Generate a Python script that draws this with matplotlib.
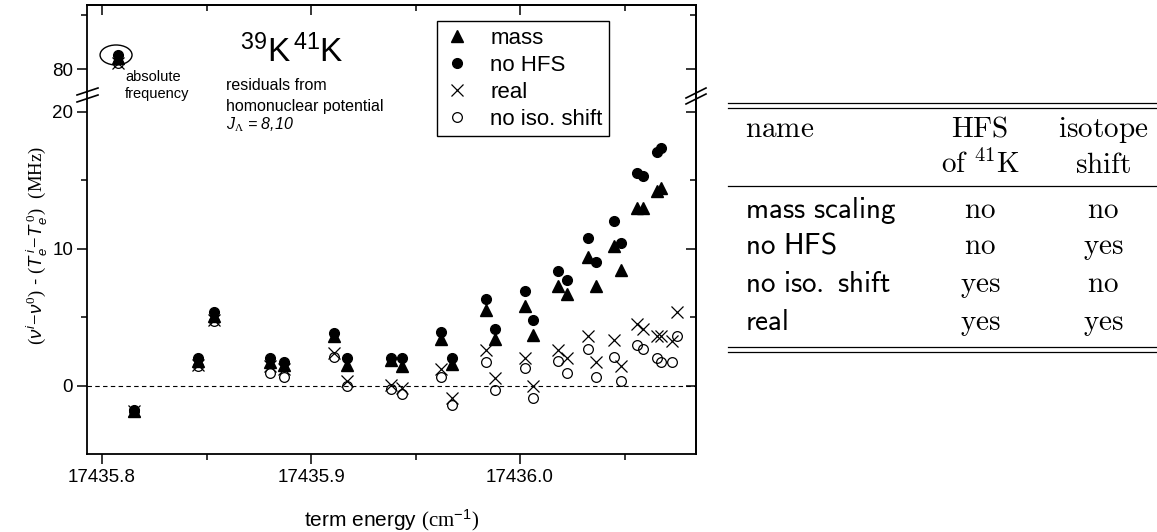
import numpy as np
import matplotlib
matplotlib.use('Agg')
import matplotlib.pyplot as plt
from matplotlib.lines import Line2D
from matplotlib.patches import Ellipse
from matplotlib.ticker import FixedLocator

plt.rcParams['font.family'] = ['Liberation Sans', 'DejaVu Sans']
plt.rcParams['mathtext.fontset'] = 'custom'
plt.rcParams['mathtext.rm'] = 'Liberation Serif'
plt.rcParams['mathtext.it'] = 'Liberation Sans:italic'
plt.rcParams['mathtext.sf'] = 'Liberation Sans'
plt.rcParams['mathtext.bf'] = 'Liberation Sans:bold'

# ---------------- data ----------------
term_energy = [17435.8077, 17435.8153, 17435.8459, 17435.8536, 17435.8804, 17435.8871,
               17435.9110, 17435.9172, 17435.9383, 17435.9435, 17435.9622, 17435.9675,
               17435.9837, 17435.9880, 17436.0024, 17436.0062, 17436.0182, 17436.0225,
               17436.0325, 17436.0364, 17436.0450, 17436.0483, 17436.0560, 17436.0589,
               17436.0656, 17436.0675, 17436.0727, 17436.0751]
mass = [81.0, -1.85, 1.8, 5.1, 1.7, 1.5, 3.6, 1.5, 1.85, 1.45, 3.4, 1.55, 5.55, 3.4,
        5.8, 3.7, 7.3, 6.7, 9.4, 7.25, 10.2, 8.45, 13.0, 13.0, 14.2, 14.45, np.nan, np.nan]
no_hfs = [81.3, -1.8, 2.05, 5.35, 2.05, 1.75, 3.85, 2.05, 2.05, 2.05, 3.9, 2.05, 6.3, 4.15,
          6.9, 4.8, 8.4, 7.75, 10.8, 9.0, 12.0, 10.45, 15.55, 15.3, 17.1, 17.4, np.nan, np.nan]
real = [80.55, -1.85, 1.5, 4.8, 1.45, 1.2, 2.4, 0.3, 0.05, -0.15, 1.2, -0.9, 2.6, 0.55,
        2.05, -0.05, 2.6, 2.05, 3.6, 1.75, 3.3, 1.4, 4.5, 4.15, 3.6, 3.6, 3.25, 5.35]
no_iso_shift = [80.55, -1.85, 1.4, 4.75, 0.9, 0.65, 2.1, 0.0, -0.25, -0.6, 0.6, -1.45, 1.75, -0.3,
                1.25, -0.9, 1.8, 0.95, 2.7, 0.6, 2.1, 0.3, 3.0, 2.7, 2.05, 1.75, 1.75, 3.6]

legend_labels = ['mass', 'no HFS', 'real', 'no iso. shift']
x_ticks = [17435.8, 17435.9, 17436.0]
x_tick_labels = ['17435.8', '17435.9', '17436.0']
x_minor = [17435.85, 17435.95, 17436.05]
y_ticks_low = [0, 10, 20]
y_minor_low = [5, 15]
y_ticks_up = [80]
y_minor_up = [85]

table_rows = [('mass scaling', 'no', 'no'),
              ('no HFS', 'no', 'yes'),
              ('no iso. shift', 'yes', 'no'),
              ('real', 'yes', 'yes')]

# ---------------- layout ----------------
W, H = 1157, 532
fig = plt.figure(figsize=(W / 100, H / 100), dpi=100)


def fx(px):
    return px / W


def fy(py):
    return 1 - py / H


ax_left, ax_right = 87, 696
y_top, y_brk, y_bot = 5, 92, 454
ax_lo = fig.add_axes([fx(ax_left), fy(y_bot), fx(ax_right - ax_left), (y_bot - y_brk) / H])
ax_up = fig.add_axes([fx(ax_left), fy(y_brk), fx(ax_right - ax_left), (y_brk - y_top) / H],
                     sharex=ax_lo)

for ax in (ax_up, ax_lo):
    ax.plot(term_energy, no_iso_shift, 'o', mfc='none', mec='k', ms=7, mew=0.9, ls='none')
    ax.plot(term_energy, real, 'x', color='k', ms=8, mew=0.9, ls='none')
    ax.plot(term_energy, no_hfs, 'o', color='k', ms=7, ls='none')
    ax.plot(term_energy, mass, '^', color='k', ms=8, ls='none')
    for s in ax.spines.values():
        s.set_linewidth(1.3)

ax_lo.set_xlim(17435.7928, 17436.0842)
ax_lo.set_ylim(-5, 21.46)
ax_up.set_ylim(77.87, 85.93)
ax_lo.axhline(0, color='k', lw=0.8, ls=(0, (4, 3)))

ax_lo.spines['top'].set_visible(False)
ax_up.spines['bottom'].set_visible(False)

tick_kw_major = dict(length=7, width=1.1)
tick_kw_minor = dict(length=4.5, width=1.1)
TLS = 13.5

# x axis
ax_lo.set_xticks(x_ticks)
ax_lo.set_xticklabels(x_tick_labels)
ax_lo.xaxis.set_minor_locator(FixedLocator(x_minor))
ax_lo.tick_params(axis='x', which='both', direction='out', top=False, labelsize=TLS, pad=4)
ax_lo.tick_params(axis='x', which='major', **tick_kw_major)
ax_lo.tick_params(axis='x', which='minor', **tick_kw_minor)
ax_up.tick_params(axis='x', which='both', bottom=False, top=False, labelbottom=False)

sec_x = ax_up.secondary_xaxis('top')
sec_x.set_xticks(x_ticks)
sec_x.xaxis.set_minor_locator(FixedLocator(x_minor))
sec_x.tick_params(which='both', direction='in', labeltop=False)
sec_x.tick_params(which='major', **tick_kw_major)
sec_x.tick_params(which='minor', **tick_kw_minor)
sec_x.spines['top'].set_linewidth(1.3)

# y axes
for ax, maj, mnr in ((ax_lo, y_ticks_low, y_minor_low), (ax_up, y_ticks_up, y_minor_up)):
    ax.set_yticks(maj)
    ax.set_yticklabels([str(v) for v in maj])
    ax.yaxis.set_minor_locator(FixedLocator(mnr))
    ax.tick_params(axis='y', which='both', direction='out', right=False, labelsize=TLS, pad=3)
    ax.tick_params(axis='y', which='major', **tick_kw_major)
    ax.tick_params(axis='y', which='minor', **tick_kw_minor)
    sec = ax.secondary_yaxis('right')
    sec.set_yticks(maj)
    sec.yaxis.set_minor_locator(FixedLocator(mnr))
    sec.tick_params(which='both', direction='in', labelright=False)
    sec.tick_params(which='major', **tick_kw_major)
    sec.tick_params(which='minor', **tick_kw_minor)
    sec.spines['right'].set_linewidth(1.3)

# break marks
for (x0, y0, x1, y1) in [(77, 95, 98, 88), (77, 102, 98, 95),
                         (686, 98, 706, 88), (686, 104, 706, 94)]:
    fig.add_artist(Line2D([fx(x0), fx(x1)], [fy(y0), fy(y1)], color='k', lw=1.2,
                          transform=fig.transFigure))

# absolute frequency marker
ax_up.add_patch(Ellipse((17435.8067, 81.3), width=0.0153, height=1.85, fill=False,
                        lw=1.0, ec='k'))
fig.text(fx(125), fy(77), 'absolute', fontsize=10.5, ha='left', va='center')
fig.text(fx(125), fy(94), 'frequency', fontsize=10.5, ha='left', va='center')

# title
fig.text(fx(240), fy(62), r'$^{\mathsf{39}}$K$^{\,\mathsf{41}}$K', fontsize=24,
         ha='left', va='baseline')
fig.text(fx(226), fy(86), 'residuals from', fontsize=11.5, ha='left', va='center')
fig.text(fx(226), fy(106), 'homonuclear potential', fontsize=11.5, ha='left', va='center')
fig.text(fx(226), fy(125), r'$J_{\Lambda}$ = 8,10', fontsize=11.5, ha='left', va='center',
         style='italic')

# legend
lines = ax_lo.get_lines()[:4]
handles = [lines[3], lines[2], lines[1], lines[0]]
leg = fig.legend(handles, legend_labels, loc='upper left',
                 bbox_to_anchor=(fx(437), fy(21)), borderaxespad=0, fontsize=16,
                 frameon=True, fancybox=False, edgecolor='k', framealpha=1,
                 handlelength=1.2, handletextpad=0.9, borderpad=0.3, labelspacing=0.27)
leg.get_frame().set_linewidth(1.0)

# axis labels
fig.text(fx(392), fy(520), 'term energy ' + r'$(\mathrm{cm}^{\mathsf{-1}})$', fontsize=15,
         ha='center', va='center')
fig.text(fx(37), fy(245),
         r'$(\nu^{\mathit{i}}\!-\!\nu^{\mathit{0}})$ - $(T_{e}^{\,\mathit{i}}\!-\!T_{e}^{\,\mathit{0}})$  $(\mathrm{MHz})$',
         fontsize=13.5, rotation=90, ha='center', va='center')

# table
tk = dict(math_fontfamily='cm', fontsize=21)
tx_name, tx_c2, tx_c3 = 745, 980, 1103
fig.text(fx(tx_name), fy(136.7), r'$\mathrm{name}$', ha='left', va='baseline', **tk)
fig.text(fx(tx_c2), fy(136.7), r'$\mathrm{HFS}$', ha='center', va='baseline', **tk)
fig.text(fx(tx_c3), fy(136.7), r'$\mathrm{isotope}$', ha='center', va='baseline', **tk)
fig.text(fx(tx_c2), fy(173.3), r'$\mathrm{of}\ ^{41}\mathrm{K}$', ha='center', va='baseline', **tk)
fig.text(fx(tx_c3), fy(173.3), r'$\mathrm{shift}$', ha='center', va='baseline', **tk)
row_base = [218.3, 253.5, 292.0, 330.0]
for (nm, c2, c3), yb in zip(table_rows, row_base):
    fig.text(fx(tx_name), fy(yb), r'$\mathsf{' + nm.replace(' ', r'\ ') + '}$',
             ha='left', va='baseline', **tk)
    fig.text(fx(tx_c2), fy(yb), r'$\mathrm{' + c2 + '}$', ha='center', va='baseline', **tk)
    fig.text(fx(tx_c3), fy(yb), r'$\mathrm{' + c3 + '}$', ha='center', va='baseline', **tk)
for yl in (103.3, 108.3, 186.0, 346.7, 351.7):
    fig.add_artist(Line2D([fx(728), 1.0], [fy(yl), fy(yl)], color='k', lw=0.9,
                          transform=fig.transFigure))

fig.savefig('out.png', dpi=100)
